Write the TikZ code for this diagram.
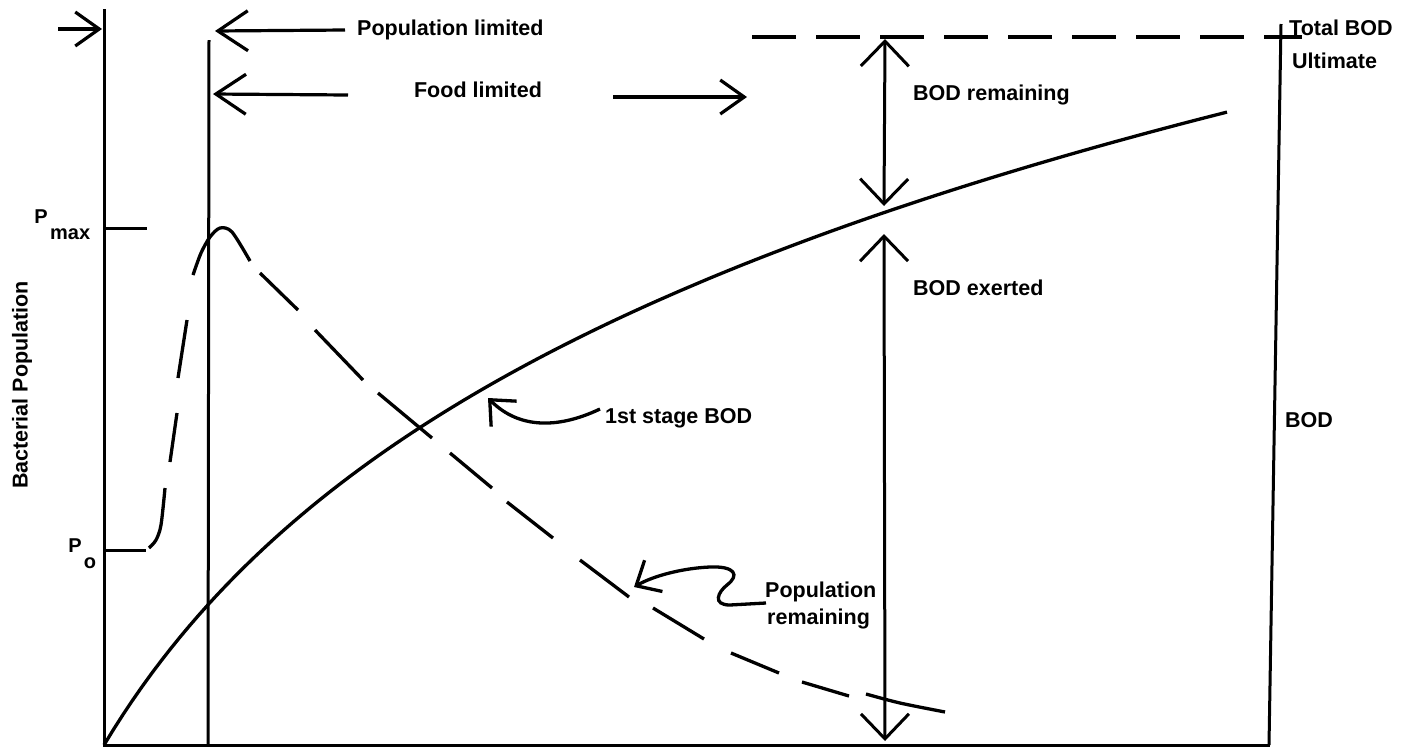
\documentclass[tikz,border=0pt]{standalone}
\usepackage{fontspec}
\setmainfont{Liberation Sans}
\usetikzlibrary{arrows.meta}
\begin{document}
\begin{tikzpicture}[x=1pt,y=-1pt,
  lbl/.style={font=\fontsize{21.5}{24}\selectfont\bfseries, inner sep=0pt},
  plbl/.style={font=\fontsize{20}{22}\selectfont\bfseries, inner sep=0pt},
  axis/.style={line width=3pt},
  bodcurve/.style={line width=3.3pt},
  dcurve/.style={line width=3.3pt},
  harr/.style={line width=3.2pt, -{Straight Barb[length=30pt,width=40pt]}},
  sarr/.style={line width=3.2pt, -{Straight Barb[length=24pt,width=34pt]}},
  varr/.style={line width=3pt, {Straight Barb[length=25pt,width=48pt]}-{Straight Barb[length=25pt,width=48pt]}},
  carr/.style={line width=3.3pt, -{Straight Barb[length=20pt,width=36pt]}},
  topdash/.style={line width=3.2pt, dash pattern=on 44pt off 20pt}
]
\useasboundingbox (0,0) rectangle (1414,748);

% axes and vertical lines
\coordinate (Ltop) at (104,9);
\coordinate (O) at (104,745);
\coordinate (Bend) at (1270,745);
\coordinate (Vtop) at (209,40);
\coordinate (Vbot) at (208,745);
\coordinate (Rtop) at (1281,24);
\coordinate (Rbot) at (1269,745);
\draw[axis] (Ltop) -- (O) -- (Bend);
\draw[axis] (Vtop) -- (Vbot);
\draw[axis] (Rtop) -- (Rbot);

% ticks
\coordinate (Pmaxa) at (104,228); \coordinate (Pmaxb) at (147,228);
\coordinate (Poa) at (104,550); \coordinate (Pob) at (146,550);
\draw[axis] (Pmaxa) -- (Pmaxb);
\draw[axis] (Poa) -- (Pob);

% labels on left
\node[plbl, anchor=base] (Pm) at (41,223) {P};
\node[plbl, anchor=base west] (Pmsub) at (50,239) {max};
\node[plbl, anchor=base] (Po) at (75,552) {P};
\node[plbl, anchor=base] (Posub) at (90,568) {o};
\node[lbl, rotate=90] (ylab) at (22,385) {Bacterial Population};

% top-left arrow
\coordinate (a0s) at (58,29); \coordinate (a0e) at (102,29);
\draw[sarr] (a0s) -- (a0e);

% population limited
\node[lbl, anchor=base west] (poplim) at (357,35) {Population limited};
\coordinate (pl1) at (345,30); \coordinate (pl2) at (215,31);
\draw[harr] (pl1) -- (pl2);

% food limited
\node[lbl, anchor=base] (food) at (478,97) {Food limited};
\coordinate (fl1) at (348,95); \coordinate (fl2) at (213,94);
\coordinate (fr1) at (613,97); \coordinate (fr2) at (747,97);
\draw[harr] (fl1) -- (fl2);
\draw[sarr] (fr1) -- (fr2);

% total BOD dashed line
\coordinate (td1) at (752,37); \coordinate (td2) at (1302,37);
\draw[topdash] (td1) -- (td2);
\node[lbl, anchor=base west] (total) at (1289,35) {Total BOD};
\node[lbl, anchor=base west] (ult) at (1292,68) {Ultimate};

% BOD remaining / exerted
\coordinate (r1) at (885,39); \coordinate (r2) at (884,206);
\coordinate (e1) at (884,234); \coordinate (e2) at (885,741);
\draw[varr] (r1) -- (r2);
\draw[varr] (e1) -- (e2);
\node[lbl, anchor=base west] (bodrem) at (913,100) {BOD remaining};
\node[lbl, anchor=base west] (bodex) at (913,295) {BOD exerted};
\node[lbl, anchor=base west] (bodr) at (1285,427) {BOD};

% first stage BOD curve
\draw[bodcurve] plot[domain=0:1123, samples=120, variable=\u] ({104+\u}, {745-335*ln(1+\u/200)});

% population dashed curve
\draw[dcurve] plot[smooth] coordinates {(149,548) (156,540) (161,525) (165,488)};
\draw[dcurve] (170,462) -- (177,413);
\draw[dcurve] (178,378) -- (187,320);
\draw[dcurve] plot[smooth] coordinates {(193,275) (201,253) (210,237) (220,228) (232,232) (250,261)};
\draw[dcurve] (260,273) -- (298,310);
\draw[dcurve] (315,330) -- (363,380);
\draw[dcurve] (378,393) -- (432,438);
\draw[dcurve] (450,453) -- (492,488);
\draw[dcurve] (507,502) -- (553,538);
\draw[dcurve] (580,560) -- (629,597);
\draw[dcurve] (653,608) -- (704,639);
\draw[dcurve] (731,653) -- (779,673);
\draw[dcurve] (802,682) -- (849,696);
\draw[dcurve] plot[smooth] coordinates {(866,694) (900,703) (945,712)};

% 1st stage BOD label and arrow
\node[lbl, anchor=base west] (first) at (605,423) {1st stage BOD};
\coordinate (fa1) at (600,409); \coordinate (fa2) at (488,398);
\draw[carr] (fa1) .. controls (560,428) and (520,430) .. (fa2);

% population remaining label and arrow
\node[lbl, anchor=base west] (popr1) at (765,597) {Population};
\node[lbl, anchor=base west] (popr2) at (767,624) {remaining};
\coordinate (pa1) at (766,603); \coordinate (pa2) at (634,587);
\draw[carr] (pa1) -- (730,605) .. controls (712,605) and (718,592) .. (727,585) .. controls (740,575) and (735,566) .. (710,567) .. controls (685,568) and (655,575) .. (pa2);

\end{tikzpicture}
\end{document}
